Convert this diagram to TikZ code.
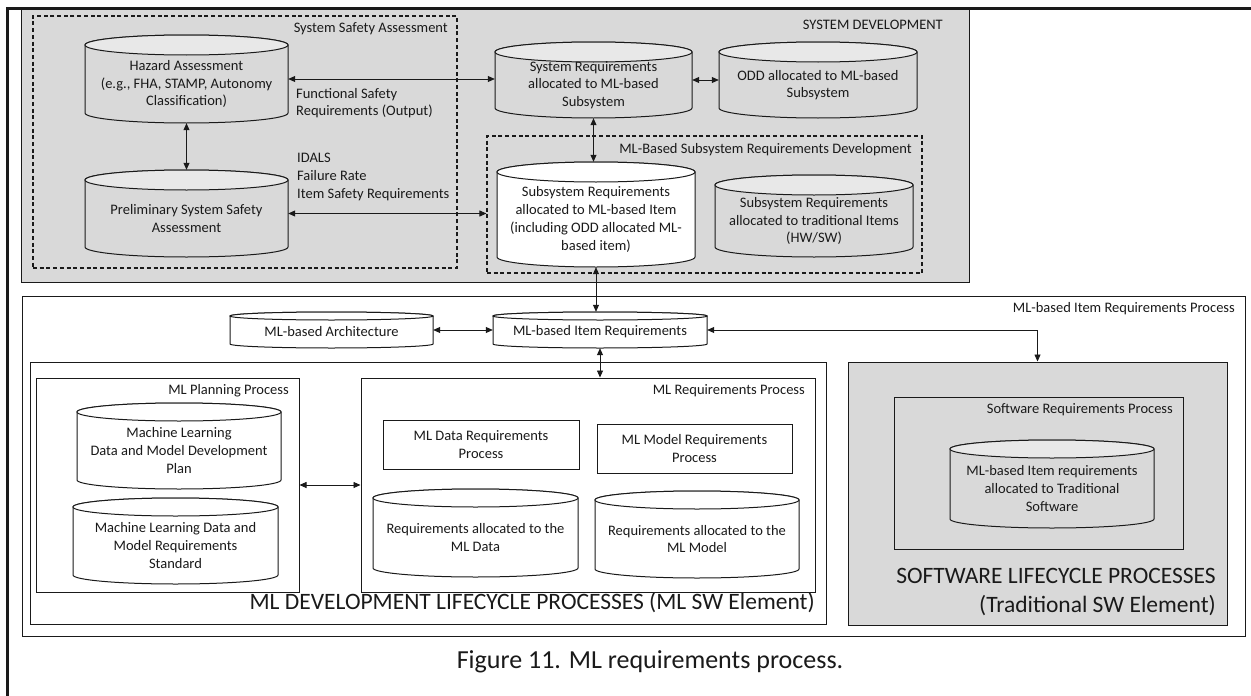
\documentclass[tikz,border=0pt]{standalone}
\usepackage{fontspec}
\setmainfont{Carlito}
\usetikzlibrary{arrows.meta,calc}

\definecolor{panelgray}{HTML}{D9D9D9}
\definecolor{ink}{HTML}{1A1A1A}

\newcommand{\cellfont}{\fontsize{14.5}{17.7}\selectfont}
\newcommand{\bigfont}{\fontsize{23.5}{29.5}\selectfont}
\newcommand{\capfont}{\fontsize{26}{30}\selectfont}

\tikzset{
  region/.style={draw=ink, line width=1pt, inner sep=0pt},
  dashregion/.style={draw=ink, line width=1.1pt, dash pattern=on 4pt off 2.7pt, inner sep=0pt},
  drumline/.style={draw=ink, line width=1pt},
  celltext/.style={inner sep=0pt, align=center, font=\cellfont, text=ink},
  lbl/.style={inner sep=0pt, font=\cellfont, text=ink, anchor=east},
  notes/.style={inner sep=0pt, font=\cellfont, text=ink, anchor=west, align=left},
  conn/.style={{Triangle[length=7pt,width=6pt]}-{Triangle[length=7pt,width=6pt]}, draw=ink, line width=0.8pt},
}

% rectangular panel given by its left, top, right and bottom edges (y grows downwards)
\newcommand{\mkpanel}[6]{%
  \pgfmathsetmacro\pw{#4-#2}\pgfmathsetmacro\ph{#5-#3}%
  \pgfmathsetmacro\px{(#2+#4)/2}\pgfmathsetmacro\py{-(#3+#5)/2}%
  \node[#6, minimum width=\pw pt, minimum height=\ph pt] (#1) at (\px,\py) {};}

% cylinder (data store): name, left, top, right, bottom, end radius, fill, text
\newcommand{\mkdrum}[8]{%
  \pgfmathsetmacro\dcx{(#2+#4)/2}%
  \pgfmathsetmacro\drx{(#4-#2)/2}%
  \pgfmathsetmacro\dw{#4-#2}%
  \pgfmathsetmacro\dh{#5-#3}%
  \pgfmathsetmacro\dtop{-(#3+#6)}%
  \pgfmathsetmacro\dbot{-(#5-#6)}%
  \pgfmathsetmacro\dmid{-(#3+#5)/2}%
  \pgfmathsetmacro\dtxt{-(#3+#6+#5)/2}%
  \filldraw[drumline, fill=#7] (#2,\dtop) -- (#2,\dbot)
    arc[start angle=180, end angle=360, x radius=\drx, y radius=#6] -- (#4,\dtop)
    arc[start angle=0, end angle=180, x radius=\drx, y radius=#6] -- cycle;
  \filldraw[drumline, fill=#7!60!white] (\dcx,\dtop) ellipse[x radius=\drx, y radius=#6];
  \node[inner sep=0pt, minimum width=\dw pt, minimum height=\dh pt] (#1) at (\dcx,\dmid) {};
  \node[celltext] (#1-text) at (\dcx,\dtxt) {#8};}

\begin{document}
\begin{tikzpicture}[x=1pt, y=1pt]
\useasboundingbox (0,0) rectangle (1251,-696);
\fill[white] (0,0) rectangle (1251,-696);

% ---------------- system development ----------------
\mkpanel{sysdev}{21}{8}{969}{282}{region, fill=panelgray}
\node[lbl] (sysdev-label) at (943,-25) {SYSTEM DEVELOPMENT};

\mkpanel{ssa}{33}{16}{457}{268}{dashregion}
\node[lbl] (ssa-label) at (448,-29) {System Safety Assessment};

\mkpanel{mlsubdev}{487}{136}{922}{273}{dashregion}
\node[lbl] (mlsubdev-label) at (912,-150) {ML-Based Subsystem Requirements Development};

\mkdrum{haz}{85}{35}{288}{123}{10}{panelgray}{Hazard Assessment\\(e.g., FHA, STAMP, Autonomy\\Classification)}
\mkdrum{prelim}{85}{170}{288}{257}{10}{panelgray}{Preliminary System Safety\\Assessment}
\mkdrum{sysreq}{495}{42}{692}{118}{10}{panelgray}{System Requirements\\allocated to ML-based\\Subsystem}
\mkdrum{odd}{719}{42}{917}{118}{10}{panelgray}{ODD allocated to ML-based\\Subsystem}
\mkdrum{subml}{497}{162}{695}{267}{10}{white}{Subsystem Requirements\\allocated to ML-based Item\\(including ODD allocated ML-\\based item)}
\mkdrum{subtrad}{715}{175}{913}{257}{10}{panelgray}{Subsystem Requirements\\allocated to traditional Items\\(HW/SW)}

\node[notes] (fsr-note) at (296,-103) {Functional Safety\\Requirements (Output)};
\node[notes] (isr-note) at (297,-177) {IDALS\\Failure Rate\\Item Safety Requirements};

% ---------------- ML-based item requirements process ----------------
\mkpanel{itemproc}{22}{296}{1245}{636}{region, fill=white}
\node[lbl] (itemproc-label) at (1235,-309) {ML-based Item Requirements Process};

\mkdrum{arch}{230}{312}{433}{348}{4}{white}{ML-based Architecture}
\mkdrum{itemreq}{493}{312}{707}{348}{4}{white}{ML-based Item Requirements}

\mkpanel{mldev}{30}{362}{826}{624}{region, fill=white}
\node[lbl, font=\bigfont] (mldev-label) at (815,-603) {ML DEVELOPMENT LIFECYCLE PROCESSES (ML SW Element)};

\mkpanel{planning}{36}{378}{299}{592}{region, fill=white}
\node[lbl] (planning-label) at (289,-391) {ML Planning Process};
\mkdrum{mlplan}{77}{403}{281}{489}{9}{white}{Machine Learning\\Data and Model Development\\Plan}
\mkdrum{mlstd}{73}{498}{278}{584}{9}{white}{Machine Learning Data and\\Model Requirements\\Standard}

\mkpanel{mlreqproc}{361}{378}{815}{592}{region, fill=white}
\node[lbl] (mlreqproc-label) at (805,-391) {ML Requirements Process};
\mkpanel{datareq}{383}{420}{579}{469}{region, fill=white}
\node[celltext] (datareq-text) at (datareq) {ML Data Requirements\\Process};
\mkpanel{modelreq}{597}{424}{792}{473}{region, fill=white}
\node[celltext] (modelreq-text) at (modelreq) {ML Model Requirements\\Process};
\mkdrum{reqdata}{373}{489}{578}{577}{9}{white}{Requirements allocated to the\\ML Data}
\mkdrum{reqmodel}{595}{491}{799}{578}{9}{white}{Requirements allocated to the\\ML Model}

\mkpanel{swlc}{848}{362}{1227}{625}{region, fill=panelgray}
\node[lbl, font=\bigfont, align=right] (swlc-label) at (1216,-592) {SOFTWARE LIFECYCLE PROCESSES\\(Traditional SW Element)};
\mkpanel{swreq}{894}{397}{1183}{549}{region, fill=panelgray}
\node[lbl] (swreq-label) at (1173,-410) {Software Requirements Process};
\mkdrum{swalloc}{950}{440}{1154}{528}{9}{panelgray}{ML-based Item requirements\\allocated to Traditional\\Software}

% ---------------- connectors ----------------
\draw[conn] (haz.south) -- (prelim.north);
\draw[conn] (haz.east) -- (haz.east -| sysreq.west);
\draw[conn] (prelim.east) -- (prelim.east -| mlsubdev.west);
\draw[conn] (sysreq.east) -- (sysreq.east -| odd.west);
\draw[conn] (sysreq.south) -- (sysreq.south |- subml.north);
\draw[conn] (subml.south) -- (subml.south |- itemreq.north);
\draw[conn] (arch.east) -- (itemreq.west);
\draw[conn] (itemreq.east) -| (swlc.north);
\draw[conn] (itemreq.south) -- (itemreq.south |- mlreqproc.north);
\draw[conn] (planning.east) -- (mlreqproc.west);

% caption and page frame
\node[inner sep=0pt, font=\capfont, text=ink] (caption) at (650,-662) {Figure 11. ML requirements process.};
\draw[line width=3pt, ink] (7.5,-696) -- (7.5,-8) -- (1251,-8);
\end{tikzpicture}
\end{document}
